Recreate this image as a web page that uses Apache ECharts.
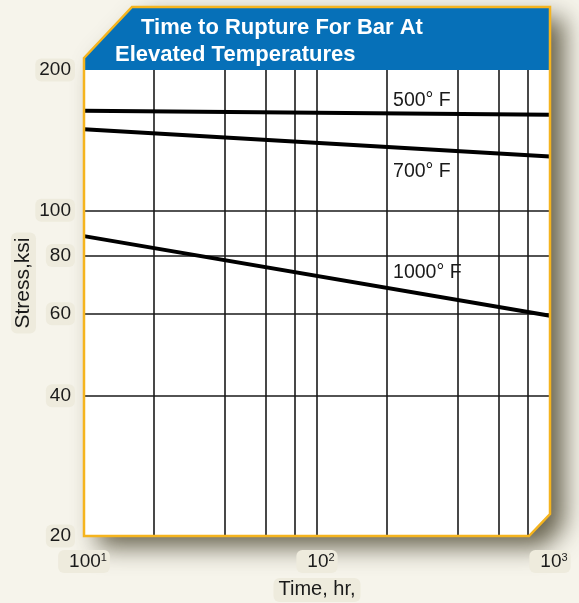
<!DOCTYPE html>
<html><head><meta charset="utf-8">
<script src="https://cdn.jsdelivr.net/npm/echarts@6/dist/echarts.min.js"></script>
<style>html,body{margin:0;padding:0;background:#f6f4eb}#c{width:579px;height:603px}</style>
</head><body><div id="c"></div>
<script>
// ---- data ----
const timeHours = [10, 1000];
const stress500F = [163.5, 160.3];
const stress700F = [149.3, 130.5];
const stress1000F = [88.0, 59.4];
const curveNames = ['500° F', '700° F', '1000° F'];
const curveLabelAt = [[212, 172], [212, 121], [212, 73.6]];
const xGridValues = [20, 40, 60, 80, 100, 200, 400, 600, 800];
const yGridValues = [40, 60, 80, 100];
const yTickValues = [20, 40, 60, 80, 100, 200];
const xTickText = {10: '100{s|1}', 100: '10{s|2}', 1000: '10{s|3}'};
const titleLines = ['Time to Rupture For Bar At', 'Elevated Temperatures'];
const xName = 'Time, hr,';
const yName = 'Stress,ksi';

const FONT = 'Liberation Sans, Arial, Helvetica, sans-serif';
const labelBg = '#eeebdd';
const chart = echarts.init(document.getElementById('c'), null, {renderer: 'canvas'});

const panelPts = [[84, 58], [132, 7], [550, 7], [550, 514], [529, 536], [84, 536]];
const bannerPts = [[84, 58], [132, 7], [550, 7], [550, 70], [84, 70]];

function curve(vals, idx) {
  return {
    type: 'line', name: curveNames[idx], symbol: 'none', silent: true,
    data: timeHours.map((t, i) => [t, vals[i]]),
    lineStyle: {color: '#000', width: 4}, z: 5,
    markPoint: {
      silent: true, symbol: 'circle', symbolSize: 0,
      data: [{coord: curveLabelAt[idx]}],
      label: {show: true, position: 'right', distance: 0, formatter: curveNames[idx],
        color: '#1a1a1a', fontSize: 19.5, fontFamily: FONT}
    }
  };
}

chart.setOption({
  backgroundColor: '#f6f4eb',
  animation: false,
  title: [
    {text: titleLines[0], left: 136, top: 12, textStyle: {color: '#fff', fontSize: 22, fontWeight: 'bold', fontFamily: FONT}},
    {text: titleLines[1], left: 110, top: 39, textStyle: {color: '#fff', fontSize: 22, fontWeight: 'bold', fontFamily: FONT}}
  ],
  graphic: [
    {type: 'polygon', shape: {points: panelPts}, z: -10,
      style: {fill: '#fff', shadowBlur: 24, shadowOffsetX: 14, shadowOffsetY: 11, shadowColor: 'rgba(55,50,25,0.75)'}},
    {type: 'polygon', shape: {points: bannerPts}, z: -5, style: {fill: '#0670b8'}},
    {type: 'polygon', shape: {points: panelPts}, z: 100, silent: true,
      style: {fill: null, stroke: '#f5b41e', lineWidth: 2.5}}
  ],
  grid: {left: 84, right: 29, top: 70, bottom: 67, containLabel: false, outerBoundsMode: 'none'},
  xAxis: {
    type: 'log', logBase: 10, min: 10, max: 1000,
    name: xName, nameLocation: 'middle', nameGap: 24,
    nameTextStyle: {color: '#1a1a1a', fontSize: 20, fontFamily: FONT, backgroundColor: labelBg, borderRadius: 6, padding: [2, 5]},
    axisLine: {show: false}, axisTick: {show: false}, splitLine: {show: false},
    axisLabel: {
      margin: 14, color: '#1a1a1a', fontSize: 19, fontFamily: FONT,
      formatter: v => xTickText[Math.round(v)] || '',
      backgroundColor: labelBg, borderRadius: 6, padding: [2, 3, 2, 11],
      rich: {s: {fontSize: 11, verticalAlign: 'top', color: '#1a1a1a', fontFamily: FONT, padding: [0, 0, 8, 0]}}
    }
  },
  yAxis: {
    type: 'log', logBase: 10, min: 20, max: 200,
    name: '{t|' + yName + '}', nameLocation: 'middle', nameGap: 48, nameRotate: 90,
    nameTextStyle: {padding: [0, 0, 0, 40],
      rich: {t: {color: '#1a1a1a', fontSize: 21, fontFamily: FONT, backgroundColor: labelBg, borderRadius: 6, padding: [2, 5]}}},
    axisLine: {show: false}, axisTick: {show: false}, splitLine: {show: false},
    axisLabel: {show: false}
  },
  series: [
    {
      type: 'line', data: [], silent: true,
      markLine: {
        silent: true, symbol: 'none', animation: false,
        lineStyle: {color: '#1a1a1a', width: 1.6, type: 'solid'},
        label: {show: false},
        data: xGridValues.map(v => ({xAxis: v})).concat(yGridValues.map(v => ({yAxis: v})))
      }
    },
    {
      type: 'line', data: [], silent: true,
      markLine: {
        silent: true, symbol: 'none', animation: false,
        lineStyle: {color: 'rgba(0,0,0,0)', width: 0},
        label: {show: true, position: 'start', distance: 9, formatter: p => String(p.value),
          color: '#1a1a1a', fontSize: 19, fontFamily: FONT, backgroundColor: labelBg, borderRadius: 6, padding: [2, 4]},
        data: yTickValues.map(v => ({yAxis: v}))
      }
    },
    curve(stress500F, 0),
    curve(stress700F, 1),
    curve(stress1000F, 2)
  ]
});
</script>
</body></html>
